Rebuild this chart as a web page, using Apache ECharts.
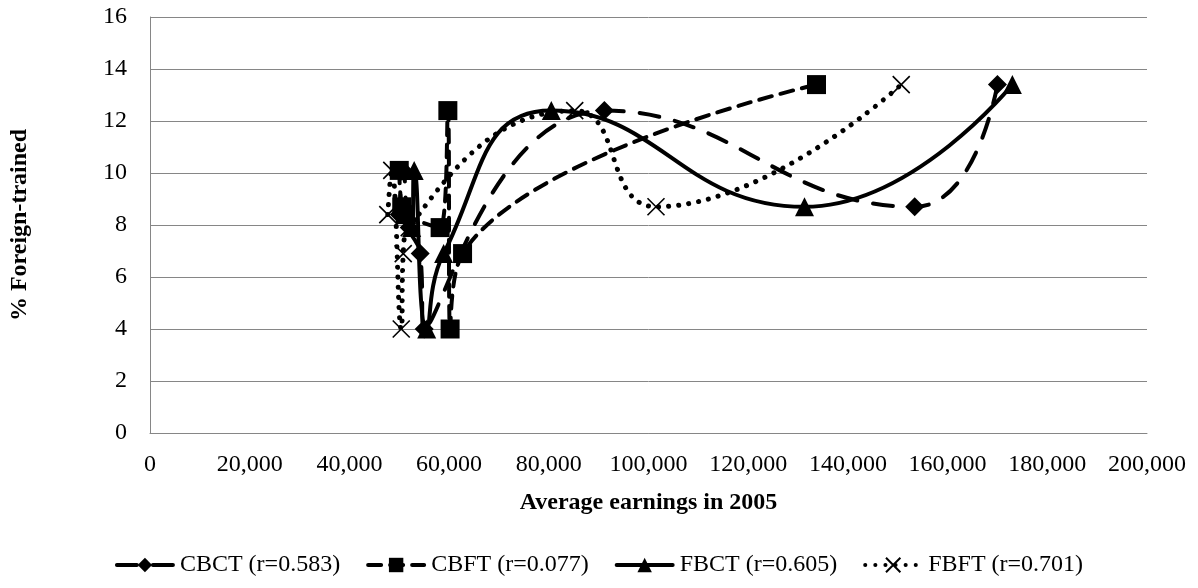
<!DOCTYPE html>
<html>
<head>
<meta charset="utf-8">
<script src="https://cdn.jsdelivr.net/npm/echarts@6/dist/echarts.min.js"></script>
<style>
html,body{margin:0;padding:0;background:#fff;}
#chart{width:1198px;height:588px;}
</style>
</head>
<body>
<div id="chart"></div>
<script>
// Series names
const seriesNames = ['CBCT (r=0.583)', 'CBFT (r=0.077)', 'FBCT (r=0.605)', 'FBFT (r=0.701)'];
// Average earnings in 2005 (x) and % foreign-trained (y), each series in its own order
const cbctX = [50000, 50800, 52000, 54200, 55000, 91150, 153400, 170000];
const cbctY = [8.4, 10.1, 7.9, 6.9, 4.0, 12.4, 8.7, 13.4];
const cbftX = [50000, 50500, 51200, 58200, 59750, 60200, 62700, 133700];
const cbftY = [10.1, 8.7, 8.4, 7.9, 12.4, 4.0, 6.9, 13.4];
const fbctX = [51500, 52500, 53000, 55500, 58900, 80500, 131300, 173000];
const fbctY = [8.4, 7.9, 10.1, 4.0, 6.9, 12.4, 8.7, 13.4];
const fbftX = [47700, 48500, 50400, 50800, 52000, 85200, 101500, 150700];
const fbftY = [8.4, 10.1, 4.0, 6.9, 7.9, 12.4, 8.7, 13.4];
// Axis ticks
const xTicks = [0, 20000, 40000, 60000, 80000, 100000, 120000, 140000, 160000, 180000, 200000];
const yTicks = [0, 2, 4, 6, 8, 10, 12, 14, 16];

const pairs = (xs, ys) => xs.map((x, i) => [x, ys[i]]);
const FONT = 'Liberation Serif';
const crossPath = 'path://M0,0 L10,10 M10,0 L0,10';

function mk(name, data, lineType, symbol, isCross, width) {
  return {
    name: name,
    type: 'line',
    data: data,
    smooth: 0.5,
    symbol: symbol,
    symbolSize: isCross ? 17 : 19,
    lineStyle: { color: '#000', width: width, type: lineType, cap: 'round' },
    itemStyle: isCross ? { color: 'rgba(0,0,0,0)', borderColor: '#000', borderWidth: 1.6 } : { color: '#000', borderColor: '#000', borderWidth: 0 },
    emphasis: { disabled: true },
    z: 2
  };
}

const chart = echarts.init(document.getElementById('chart'), null, { renderer: 'canvas' });
chart.setOption({
  animation: false,
  backgroundColor: '#fff',
  grid: { left: 145, right: 51, top: 17, bottom: 155, containLabel: false },
  xAxis: {
    type: 'value',
    min: xTicks[0], max: xTicks[xTicks.length - 1], interval: xTicks[1] - xTicks[0],
    name: 'Average earnings in 2005', nameLocation: 'middle', nameGap: 58,
    nameTextStyle: { fontFamily: FONT, fontSize: 24, fontWeight: 'bold', color: '#000' },
    axisLine: { show: true, lineStyle: { color: '#868686', width: 1 } },
    axisTick: { show: false },
    splitLine: { show: false },
    axisLabel: { fontFamily: FONT, fontSize: 24, color: '#000', margin: 20,
      formatter: v => v.toLocaleString('en-US') }
  },
  yAxis: {
    type: 'value',
    min: yTicks[0], max: yTicks[yTicks.length - 1], interval: yTicks[1] - yTicks[0],
    name: '% Foreign-trained', nameLocation: 'middle', nameGap: 118, nameRotate: 90,
    nameTextStyle: { fontFamily: FONT, fontSize: 24, fontWeight: 'bold', color: '#000' },
    axisLine: { show: true, lineStyle: { color: '#868686', width: 1 } },
    axisTick: { show: false },
    splitLine: { show: true, lineStyle: { color: '#868686', width: 1 } },
    axisLabel: { fontFamily: FONT, fontSize: 24, color: '#000', margin: 23 }
  },
  legend: {
    bottom: 6, left: 'center',
    itemWidth: 56, itemHeight: 18, itemGap: 26,
    lineStyle: { width: 4 },
    textStyle: { fontFamily: FONT, fontSize: 24, color: '#000', padding: [0, 0, 0, 2] },
    data: seriesNames
  },
  series: [
    mk(seriesNames[0], pairs(cbctX, cbctY), [20, 16], 'diamond', false, 4),
    mk(seriesNames[1], pairs(cbftX, cbftY), [13, 9], 'rect', false, 4),
    mk(seriesNames[2], pairs(fbctX, fbctY), 'solid', 'triangle', false, 4),
    mk(seriesNames[3], pairs(fbftX, fbftY), [0.1, 10], crossPath, true, 5)
  ]
});
</script>
</body>
</html>
